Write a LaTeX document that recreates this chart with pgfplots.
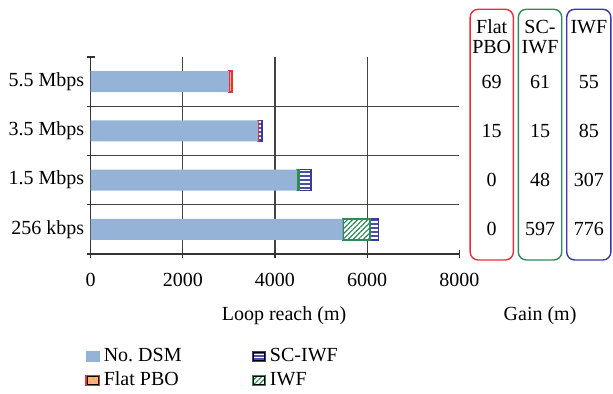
\documentclass[border=0pt]{standalone}
\usepackage{fontspec}
\setmainfont{Liberation Serif}
\usepackage{pgfplots}
\pgfplotsset{compat=1.18}
\usetikzlibrary{patterns,patterns.meta}
\definecolor{nodsm}{HTML}{95B3D7}
\definecolor{pbofill}{HTML}{F9B66E}
\definecolor{pbored}{HTML}{E8303A}
\definecolor{iwfgreen}{HTML}{2E8B57}
\definecolor{scblue}{HTML}{3A3A9E}
\definecolor{gridc}{HTML}{444444}
\begin{document}
\begin{tikzpicture}
\useasboundingbox (-45.35pt,-70pt) rectangle (261.15pt,127pt);
\begin{axis}[
  at={(0pt,0pt)}, anchor=south west,
  scale only axis, width=184.3pt, height=98.5pt,
  xbar stacked, bar width=10.5pt,
  xmin=0, xmax=8000, ymin=-0.5, ymax=3.5,
  axis x line*=bottom, axis y line*=left,
  axis line style={draw=black!80, line width=0.6pt},
  xtick={0,2000,4000,6000,8000},
  extra x ticks={2000,4000,6000}, extra x tick labels={},
  extra x tick style={grid=major},
  grid style={draw=gridc, line width=0.6pt},
  ytick={-0.5,0.5,1.5,2.5},
  yticklabels={256 kbps,1.5 Mbps,3.5 Mbps,5.5 Mbps},
  yticklabel style={yshift=12.31pt, xshift=2.3pt},
  ymajorgrids,
  extra y ticks={3.5}, extra y tick labels={}, extra y tick style={grid=none},
  tick align=center, major tick length=4pt,
  tick style={draw=black!80, line width=0.6pt},
  scaled x ticks=false,
  xticklabel style={/pgf/number format/1000 sep={}, yshift=-4pt},
  /pgf/number format/assume math mode=true,
  xlabel={Loop reach (m)},
  xlabel style={at={(axis description cs:0.5245,0)}, anchor=center, yshift=-31pt},
  clip=false,
  legend columns=2,
  legend cell align=left,
  legend style={draw=none, fill=none, inner sep=0pt,
    at={(axis description cs:0,0)}, anchor=north west,
    xshift=-2.85pt, yshift=-46.5pt,
    nodes={inner ysep=0pt, text height=7pt, text depth=2pt},
    row sep=3pt,
    /tikz/every even column/.append style={column sep=33pt}},
]
\addplot[forget plot, fill=nodsm, draw=none] coordinates {(5470,0) (4475,1) (3630,2) (3000,3)};
\addplot[forget plot, fill=pbofill, draw=pbored, line width=0.7pt,
  postaction={pattern=crosshatch dots, pattern color=pbored!50}] coordinates {(0,0) (0,1) (15,2) (69,3)};
\addplot[forget plot, fill=white, draw=iwfgreen, line width=0.8pt,
  postaction={pattern={Lines[angle=45,distance=1.8pt,line width=0.6pt]}, pattern color=iwfgreen}] coordinates {(597,0) (48,1) (0,2)};
\addplot[forget plot, fill=scblue!90, draw=scblue, line width=0.8pt,
  postaction={pattern={Lines[angle=0,distance=2pt,line width=0.6pt]}, pattern color=white}] coordinates {(179,0) (259,1) (70,2)};

\addlegendimage{legend image code/.code={\fill[nodsm] (0pt,-2.6pt) rectangle (6.5pt,2.6pt);}}
\addlegendentry{No.\ DSM}
\addlegendimage{legend image code/.code={\draw[fill=scblue!90, draw=scblue, line width=0.6pt] (0pt,-2.6pt) rectangle (6.5pt,2.6pt);
  \fill[pattern={Lines[angle=0,distance=1.4pt,line width=0.45pt]}, pattern color=white] (0.4pt,-2.2pt) rectangle (6.1pt,2.2pt);}}
\addlegendentry{SC-IWF}
\addlegendimage{legend image code/.code={\draw[fill=pbofill, draw=pbored, line width=0.7pt] (0pt,-2.6pt) rectangle (6.5pt,2.6pt);
  \fill[pattern=crosshatch dots, pattern color=pbored!50] (0.4pt,-2.2pt) rectangle (6.1pt,2.2pt);}}
\addlegendentry{Flat PBO}
\addlegendimage{legend image code/.code={\draw[fill=white, draw=iwfgreen, line width=0.7pt] (0pt,-2.6pt) rectangle (6.5pt,2.6pt);
  \fill[pattern={Lines[angle=45,distance=1.8pt,line width=0.6pt]}, pattern color=iwfgreen] (0.4pt,-2.2pt) rectangle (6.1pt,2.2pt);}}
\addlegendentry{IWF}

% gain boxes
\draw[pbored, line width=0.7pt, rounded corners=4pt] (axis cs:8236,-0.622) rectangle (axis cs:9173,4.469);
\draw[iwfgreen, line width=0.7pt, rounded corners=4pt] (axis cs:9282,-0.622) rectangle (axis cs:10224,4.469);
\draw[scblue, line width=0.7pt, rounded corners=4pt] (axis cs:10332,-0.622) rectangle (axis cs:11290,4.469);
\node[anchor=base, inner sep=0pt] at (axis cs:8704,3.987) {Flat};
\node[anchor=base, inner sep=0pt] at (axis cs:8704,3.561) {PBO};
\node[anchor=base, inner sep=0pt] at (axis cs:9753,3.987) {SC-};
\node[anchor=base, inner sep=0pt] at (axis cs:9753,3.561) {IWF};
\node[anchor=base, inner sep=0pt] at (axis cs:10812,3.987) {IWF};
\node at (axis cs:8704,3) {69};
\node at (axis cs:8704,2) {15};
\node at (axis cs:8704,1) {0};
\node at (axis cs:8704,0) {0};
\node at (axis cs:9753,3) {61};
\node at (axis cs:9753,2) {15};
\node at (axis cs:9753,1) {48};
\node at (axis cs:9753,0) {597};
\node at (axis cs:10812,3) {55};
\node at (axis cs:10812,2) {85};
\node at (axis cs:10812,1) {307};
\node at (axis cs:10812,0) {776};
\node[anchor=center, yshift=-31pt] at (axis cs:9753,-0.5) {Gain (m)};
\end{axis}
\end{tikzpicture}
\end{document}
